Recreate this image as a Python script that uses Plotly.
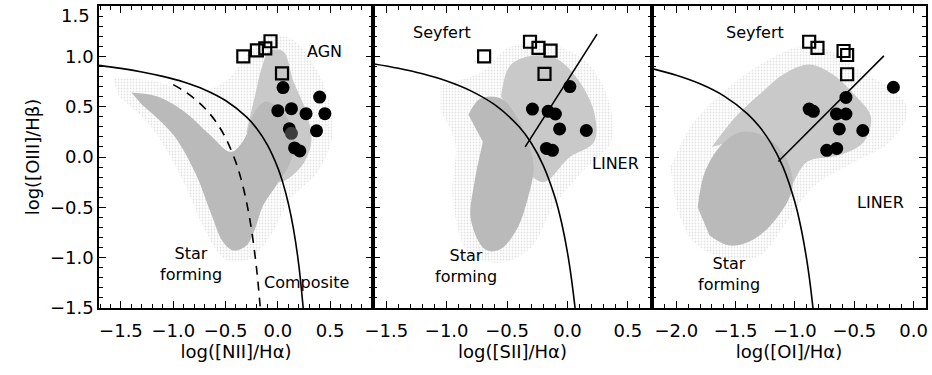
import plotly.graph_objects as go

# ---------------- data ----------------
# Panel 1: [NII]/Ha
nii_sq_x = [-0.33, -0.20, -0.12, -0.07, 0.04]
nii_sq_y = [1.00, 1.06, 1.08, 1.15, 0.83]
nii_ci_x = [0.05, 0.00, 0.13, 0.27, 0.40, 0.45, 0.37, 0.11, 0.16, 0.21]
nii_ci_y = [0.69, 0.46, 0.48, 0.43, 0.595, 0.43, 0.26, 0.28, 0.09, 0.06]
nii_dk_x = [0.13]
nii_dk_y = [0.235]

# Panel 2: [SII]/Ha
sii_sq_x = [-0.69, -0.31, -0.24, -0.14, -0.19]
sii_sq_y = [1.00, 1.145, 1.085, 1.056, 0.826]
sii_ci_x = [0.02, -0.29, -0.16, -0.10, -0.065, 0.156, -0.174, -0.124]
sii_ci_y = [0.70, 0.476, 0.454, 0.427, 0.279, 0.263, 0.085, 0.066]

# Panel 3: [OI]/Ha
oi_sq_x = [-0.88, -0.81, -0.59, -0.56, -0.56]
oi_sq_y = [1.145, 1.085, 1.053, 1.013, 0.822]
oi_ci_x = [-0.17, -0.57, -0.88, -0.845, -0.65, -0.57, -0.626, -0.428, -0.732, -0.648]
oi_ci_y = [0.693, 0.592, 0.476, 0.454, 0.427, 0.427, 0.279, 0.263, 0.066, 0.085]

# Demarcation curves (sampled points)
k01_nii_x = [-1.71, -1.5, -1.3, -1.1, -0.9, -0.7, -0.5, -0.3, -0.2, -0.1, 0.0, 0.05, 0.1, 0.15, 0.2, 0.25]
k01_nii_y = [0.910, 0.880, 0.845, 0.801, 0.745, 0.669, 0.561, 0.398, 0.280, 0.120, -0.108, -0.262, -0.459, -0.716, -1.069, -1.583]
ka03_x = [-1.0, -0.9, -0.8, -0.7, -0.6, -0.5, -0.4, -0.35, -0.3, -0.25, -0.2, -0.17, -0.16]
ka03_y = [0.719, 0.658, 0.582, 0.487, 0.362, 0.191, -0.056, -0.225, -0.443, -0.733, -1.14, -1.473, -1.605]
k01_sii_x = [-1.61, -1.4, -1.2, -1.0, -0.8, -0.6, -0.4, -0.3, -0.2, -0.1, -0.05, 0.0, 0.03, 0.06, 0.07]
k01_sii_y = [0.927, 0.881, 0.826, 0.755, 0.657, 0.517, 0.300, 0.139, -0.085, -0.414, -0.646, -0.950, -1.183, -1.469, -1.58]
k06_sii_x = [-0.35, 0.245]
k06_sii_y = [0.10, 1.22]
k01_oi_x = [-2.205, -2.0, -1.8, -1.6, -1.4, -1.3, -1.2, -1.1, -1.0, -0.95, -0.9, -0.87, -0.85, -0.84]
k01_oi_y = [0.878, 0.812, 0.727, 0.607, 0.429, 0.302, 0.133, -0.101, -0.450, -0.698, -1.025, -1.277, -1.478, -1.59]
k06_oi_x = [-1.14, -0.25]
k06_oi_y = [-0.045, 1.005]

# Outlines of the grey SDSS galaxy cloud (halo = sparse, mid = speckled, core = dense)
nii_halo_x = [-1.58, -1.2, -0.8, -0.5, -0.3, -0.12, 0.12, 0.32, 0.48, 0.52, 0.38, 0.12, -0.08, -0.28, -0.5, -0.7, -0.9, -1.2, -1.52]
nii_halo_y = [0.78, 0.76, 0.65, 0.75, 1.0, 1.18, 1.18, 0.95, 0.6, 0.2, -0.15, -0.42, -0.8, -1.02, -1.02, -0.72, -0.25, 0.28, 0.6]
nii_mid_x = [-0.30, -0.22, -0.15, -0.08, 0.05, 0.15, 0.27, 0.32, 0.22, 0.0, -0.2]
nii_mid_y = [0.25, 0.6, 0.9, 1.05, 1.05, 0.75, 0.45, 0.15, -0.1, -0.25, 0.0]
nii_core_x = [-1.40, -1.15, -0.88, -0.65, -0.45, -0.32, -0.22, -0.12, 0.05, 0.15, 0.12, 0.0, -0.14, -0.22, -0.30, -0.42, -0.52, -0.64, -0.78, -1.0, -1.3]
nii_core_y = [0.64, 0.60, 0.44, 0.22, 0.05, 0.18, 0.45, 0.55, 0.45, 0.2, -0.05, -0.26, -0.48, -0.72, -0.88, -0.93, -0.85, -0.56, -0.18, 0.22, 0.52]

sii_halo_x = [-1.05, -0.7, -0.5, -0.15, 0.15, 0.33, 0.36, 0.12, -0.12, -0.3, -0.55, -0.82, -0.95, -0.93, -1.05]
sii_halo_y = [0.72, 0.85, 1.08, 1.12, 0.95, 0.6, 0.15, -0.15, -0.5, -0.9, -1.05, -0.95, -0.4, 0.15, 0.45]
sii_mid_x = [-0.55, -0.48, -0.32, -0.1, 0.08, 0.22, 0.22, 0.02, -0.2, -0.35, -0.40]
sii_mid_y = [0.6, 0.9, 1.0, 0.98, 0.78, 0.45, 0.15, 0.0, -0.25, -0.1, 0.3]
sii_core_x = [-0.82, -0.72, -0.55, -0.42, -0.33, -0.28, -0.33, -0.42, -0.56, -0.68, -0.80, -0.77, -0.70]
sii_core_y = [0.42, 0.58, 0.58, 0.4, 0.15, -0.1, -0.42, -0.72, -0.92, -0.92, -0.62, -0.25, 0.15]

oi_halo_x = [-2.05, -1.85, -1.5, -1.2, -0.95, -0.7, -0.45, -0.15, -0.05, -0.2, -0.5, -0.85, -1.1, -1.3, -1.6, -1.85, -2.0]
oi_halo_y = [-0.1, 0.35, 0.75, 0.98, 1.1, 1.05, 0.85, 0.65, 0.45, 0.15, -0.05, -0.3, -0.7, -0.98, -1.0, -0.85, -0.5]
oi_mid_x = [-1.7, -1.5, -1.3, -1.1, -0.88, -0.68, -0.5, -0.36, -0.42, -0.62, -0.9, -1.05, -1.1, -1.4]
oi_mid_y = [0.1, 0.4, 0.62, 0.82, 0.92, 0.82, 0.62, 0.4, 0.15, 0.02, -0.05, -0.3, 0.0, 0.2]
oi_core_x = [-1.82, -1.76, -1.62, -1.45, -1.25, -1.08, -1.02, -1.15, -1.35, -1.55, -1.72]
oi_core_y = [-0.5, -0.15, 0.12, 0.25, 0.2, 0.0, -0.3, -0.6, -0.82, -0.88, -0.78]

x_titles = ["log([NII]/Hα)", "log([SII]/Hα)", "log([OI]/Hα)"]
y_title = "log([OIII]/Hβ)"
y_tickvals = [-1.5, -1.0, -0.5, 0.0, 0.5, 1.0]
y_top_label = "1.5"

# ---------------- figure ----------------
FONT = "DejaVu Sans"
GREY = "#bababa"
fig = go.Figure()

panels = [
    dict(ax="", halo=(nii_halo_x, nii_halo_y), mid=(nii_mid_x, nii_mid_y), core=(nii_core_x, nii_core_y),
         sq=(nii_sq_x, nii_sq_y), ci=(nii_ci_x, nii_ci_y)),
    dict(ax="2", halo=(sii_halo_x, sii_halo_y), mid=(sii_mid_x, sii_mid_y), core=(sii_core_x, sii_core_y),
         sq=(sii_sq_x, sii_sq_y), ci=(sii_ci_x, sii_ci_y)),
    dict(ax="3", halo=(oi_halo_x, oi_halo_y), mid=(oi_mid_x, oi_mid_y), core=(oi_core_x, oi_core_y),
         sq=(oi_sq_x, oi_sq_y), ci=(oi_ci_x, oi_ci_y)),
]

for p in panels:
    xa, ya = "x" + p["ax"], "y" + p["ax"]
    fig.add_trace(go.Scatter(x=p["halo"][0], y=p["halo"][1], xaxis=xa, yaxis=ya, mode="lines",
                             fill="toself", line=dict(width=0, shape="spline"), fillcolor="rgba(0,0,0,0)",
                             fillpattern=dict(shape=".", fgcolor="#c4c4c4", bgcolor="rgba(0,0,0,0)",
                                              size=3, solidity=0.3),
                             hoverinfo="skip", showlegend=False))
    fig.add_trace(go.Scatter(x=p["mid"][0], y=p["mid"][1], xaxis=xa, yaxis=ya, mode="lines",
                             fill="toself", line=dict(width=0, shape="spline"), fillcolor="#c9c9c9",
                             hoverinfo="skip", showlegend=False))
    fig.add_trace(go.Scatter(x=p["core"][0], y=p["core"][1], xaxis=xa, yaxis=ya, mode="lines",
                             fill="toself", line=dict(width=0, shape="spline"), fillcolor=GREY,
                             hoverinfo="skip", showlegend=False))

# demarcation lines
def line(x, y, ax, dash="solid"):
    fig.add_trace(go.Scatter(x=x, y=y, xaxis="x" + ax, yaxis="y" + ax, mode="lines",
                             line=dict(color="black", width=1.6, dash=dash, shape="spline"),
                             hoverinfo="skip", showlegend=False))

line(k01_nii_x, k01_nii_y, "")
line(ka03_x, ka03_y, "", dash="9px,7px")
line(k01_sii_x, k01_sii_y, "2")
line(k06_sii_x, k06_sii_y, "2")
line(k01_oi_x, k01_oi_y, "3")
line(k06_oi_x, k06_oi_y, "3")

# markers
for p in panels:
    xa, ya = "x" + p["ax"], "y" + p["ax"]
    fig.add_trace(go.Scatter(x=p["sq"][0], y=p["sq"][1], xaxis=xa, yaxis=ya, mode="markers",
                             marker=dict(symbol="square-open", size=12, color="black",
                                         line=dict(width=2.2, color="black")),
                             showlegend=False))
    fig.add_trace(go.Scatter(x=p["ci"][0], y=p["ci"][1], xaxis=xa, yaxis=ya, mode="markers",
                             marker=dict(symbol="circle", size=13, color="black", line=dict(width=0)),
                             showlegend=False))
fig.add_trace(go.Scatter(x=nii_dk_x, y=nii_dk_y, mode="markers",
                         marker=dict(symbol="circle", size=13, color="#3c3c3c", line=dict(width=0)),
                         showlegend=False))

# axes
W0, W1 = 0.3313, 0.6687
xranges = [[-1.71, 0.91], [-1.61, 0.70], [-2.205, 0.105]]
domains = [[0, W0], [W0, W1], [W1, 1]]
tickvals = [[-1.5, -1.0, -0.5, 0.0, 0.5], [-1.5, -1.0, -0.5, 0.0, 0.5], [-2.0, -1.5, -1.0, -0.5, 0.0]]
common = dict(showline=True, linecolor="black", linewidth=1.6, mirror="allticks",
              ticks="inside", ticklen=7, tickwidth=1.4, tickcolor="black",
              showgrid=False, zeroline=False,
              minor=dict(ticks="inside", ticklen=4, tickwidth=1.2, tickcolor="black", dtick=0.1),
              tickfont=dict(family=FONT, size=18, color="black"))
for i in range(3):
    key = "xaxis" if i == 0 else "xaxis%d" % (i + 1)
    yk = "y" if i == 0 else "y%d" % (i + 1)
    fig.layout[key] = dict(common, range=xranges[i], domain=domains[i], anchor=yk,
                           tickvals=tickvals[i], ticktext=["%.1f" % v if v >= 0 else "−%.1f" % -v for v in tickvals[i]],
                           ticklabelstandoff=6,
                           title=dict(text=x_titles[i], font=dict(family=FONT, size=18, color="black"), standoff=4))
    ykey = "yaxis" if i == 0 else "yaxis%d" % (i + 1)
    xk = "x" if i == 0 else "x%d" % (i + 1)
    ycfg = dict(common, range=[-1.5, 1.5], domain=[0, 1], anchor=xk,
                tickvals=y_tickvals + [1.5], minor=dict(common["minor"], tick0=0))
    if i == 0:
        ycfg["title"] = dict(text=y_title, font=dict(family=FONT, size=18, color="black"), standoff=6)
        ycfg["ticktext"] = ["%.1f" % v if v >= 0 else "−%.1f" % -v for v in y_tickvals] + [""]
    else:
        ycfg["showticklabels"] = False
    fig.layout[ykey] = ycfg

# the top y label sits just inside the frame, as in the reference
fig.add_annotation(x=0, xref="paper", xanchor="right", xshift=-7, y=1.41, yref="y", yanchor="middle",
                   text=y_top_label, showarrow=False, font=dict(family=FONT, size=18, color="black"))

# region labels
afont = dict(family=FONT, size=16, color="black")
labels = [
    ("x", "y", 0.45, 1.05, "AGN"),
    ("x", "y", -0.83, -1.06, "Star<br>forming"),
    ("x", "y", 0.27, -1.25, "Composite"),
    ("x2", "y2", -1.04, 1.24, "Seyfert"),
    ("x2", "y2", 0.40, -0.06, "LINER"),
    ("x2", "y2", -0.84, -1.08, "Star<br>forming"),
    ("x3", "y3", -1.34, 1.24, "Seyfert"),
    ("x3", "y3", -0.28, -0.45, "LINER"),
    ("x3", "y3", -1.56, -1.16, "Star<br>forming"),
]
for xr, yr, x, y, t in labels:
    fig.add_annotation(x=x, y=y, xref=xr, yref=yr, text=t, showarrow=False, font=afont,
                       xanchor="center", yanchor="middle")

fig.update_layout(width=932, height=375, margin=dict(l=99, r=6, t=4, b=67),
                  paper_bgcolor="white", plot_bgcolor="white", showlegend=False)

fig.write_html("out.html")
